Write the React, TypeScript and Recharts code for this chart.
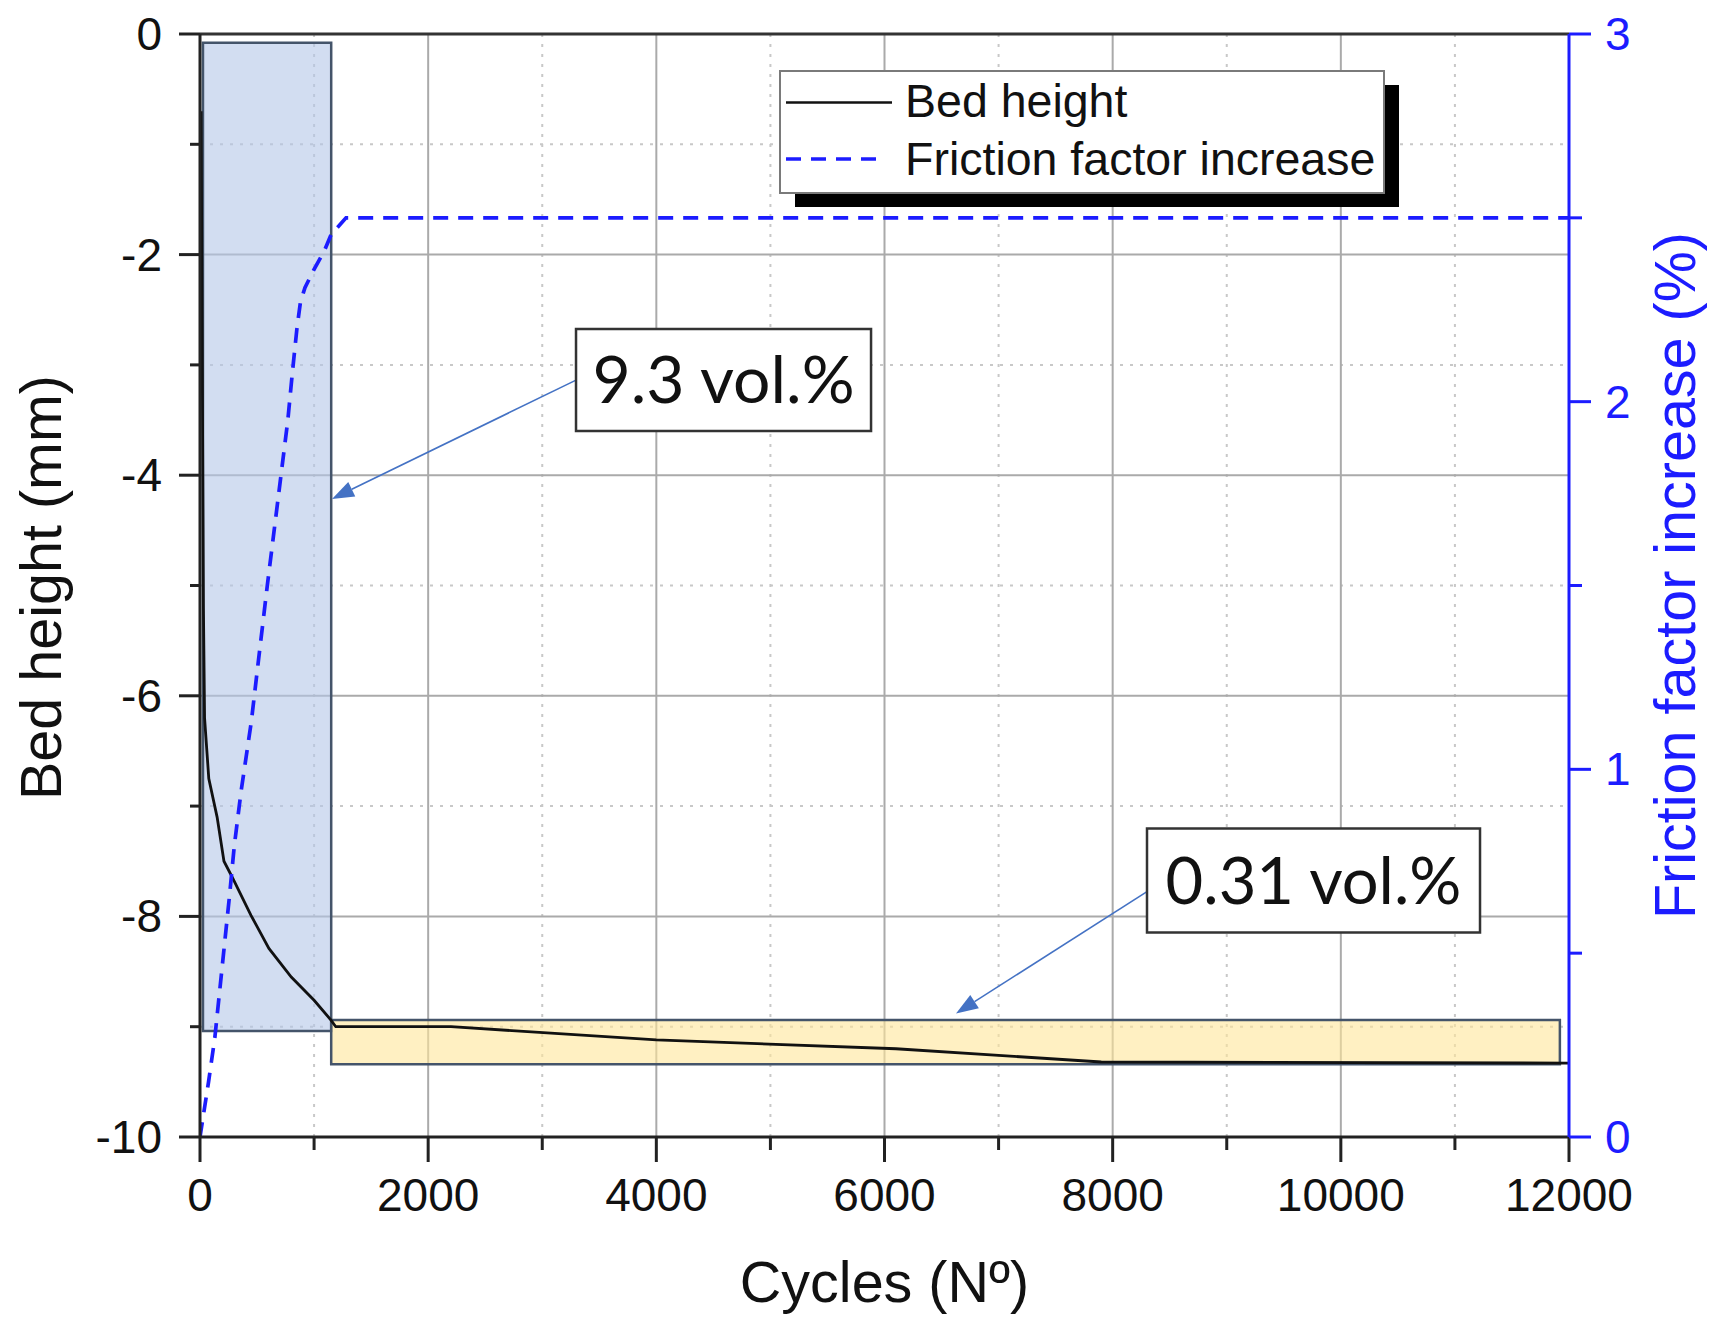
import { ComposedChart, Line, XAxis, YAxis, ReferenceLine, ReferenceArea, Legend } from 'recharts'

const SANS = '"Liberation Sans", Arial, sans-serif'
const CALLOUT_FONT = 'Lato, "Open Sans", sans-serif'
const BLUE = '#1c1cff'
const AXIS = '#222'

// bed height (mm) vs cycles
const bedCycles = [10, 20, 30, 40, 77, 150, 210, 290, 447, 604, 800, 1000, 1148, 1190, 2200, 4000, 6100, 7000, 7900, 12000]
const bedHeight = [-0.7, -3.0, -5.2, -6.2, -6.75, -7.1, -7.5, -7.66, -7.99, -8.29, -8.55, -8.76, -8.94, -9.0, -9.0, -9.12, -9.2, -9.26, -9.32, -9.33]

// friction factor increase (%) vs cycles
const frictionCycles = [0, 75, 130, 190, 260, 300, 360, 450, 510, 590, 650, 710, 770, 810, 850, 880, 920, 1000, 1090, 1150, 1280, 12000]
const frictionIncrease = [0, 0.15, 0.27, 0.45, 0.66, 0.79, 0.94, 1.13, 1.29, 1.5, 1.65, 1.8, 1.95, 2.08, 2.2, 2.27, 2.31, 2.36, 2.41, 2.455, 2.5, 2.5]

const xTicks = [0, 1000, 2000, 3000, 4000, 5000, 6000, 7000, 8000, 9000, 10000, 11000, 12000]
const leftTicks = [-10, -9, -8, -7, -6, -5, -4, -3, -2, -1, 0]
const rightTicks = [0, 0.5, 1, 1.5, 2, 2.5, 3]
const majorGridX = [2000, 4000, 6000, 8000, 10000]
const minorGridX = [1000, 3000, 5000, 7000, 9000, 11000]
const majorGridY = [-8, -6, -4, -2]
const minorGridY = [-9, -7, -5, -3, -1]

// shaded regions [x1, x2, y1, y2] in cycles / mm
const highConcRegion = [26, 1150, -0.08, -9.04]
const lowConcRegion = [1150, 11920, -8.94, -9.34]

// callouts
const calloutLabels = ['9.3 vol.%', '0.31 vol.%']
const calloutSizes = [66, 65]
const calloutBoxes = [
  [3296, 5882, -2.675, -3.6],
  [8301, 11220, -7.204, -8.147],
]
const calloutArrows = [
  [3296, -3.138, 1157, -4.215],
  [8301, -7.775, 6627, -8.88],
]

const bedData = bedCycles.map((x, i) => ({ x, y: bedHeight[i] }))
const frictionData = frictionCycles.map((x, i) => ({ x, y: frictionIncrease[i] }))

function BottomTick({ x, y, payload }: any) {
  const major = payload.value % 2000 === 0
  return (
    <g>
      <line x1={x} x2={x} y1={y} y2={y + (major ? 25 : 13)} stroke={AXIS} strokeWidth={3} />
      {major && (
        <text x={x} y={y + 74} textAnchor="middle" fontSize={46} fontFamily={SANS} fill="#111">
          {payload.value}
        </text>
      )}
    </g>
  )
}

function TopTick({ x, y, payload }: any) {
  const major = payload.value % 2000 === 0
  return <line x1={x} x2={x} y1={y} y2={y + (major ? 24 : 11)} stroke={AXIS} strokeWidth={3} />
}

function LeftTick({ x, y, payload }: any) {
  const major = payload.value % 2 === 0
  return (
    <g>
      <line x1={x - (major ? 21 : 10)} x2={x} y1={y} y2={y} stroke={AXIS} strokeWidth={3} />
      {major && (
        <text x={x - 38} y={y + 16} textAnchor="end" fontSize={46} fontFamily={SANS} fill="#111">
          {payload.value}
        </text>
      )}
    </g>
  )
}

function RightTick({ x, y, payload }: any) {
  const major = Number.isInteger(payload.value)
  return (
    <g>
      <line x1={x} x2={x + (major ? 22 : 13)} y1={y} y2={y} stroke={BLUE} strokeWidth={3} />
      {major && (
        <text x={x + 36} y={y + 16} textAnchor="start" fontSize={46} fontFamily={SANS} fill={BLUE}>
          {payload.value}
        </text>
      )}
    </g>
  )
}

function Arrow(props: any) {
  const { x1, y1, x2, y2 } = props
  const dx = x2 - x1
  const dy = y2 - y1
  const len = Math.hypot(dx, dy) || 1
  const ux = dx / len
  const uy = dy / len
  const hl = 22
  const hw = 8
  const bx = x2 - ux * hl
  const by = y2 - uy * hl
  return (
    <g>
      <line x1={x1} y1={y1} x2={bx} y2={by} stroke="#4472C4" strokeWidth={1.6} />
      <polygon
        points={`${x2},${y2} ${bx - uy * hw},${by + ux * hw} ${bx + uy * hw},${by - ux * hw}`}
        fill="#4472C4"
      />
    </g>
  )
}

function LegendBox({ payload }: any) {
  const items = payload || []
  return (
    <svg width={625} height={140} style={{ display: 'block' }}>
      <rect x={16} y={15} width={604} height={122} fill="#000" />
      <rect x={1} y={1} width={604} height={122} fill="#fff" stroke="#7a7a7a" strokeWidth={2} />
      {items.map((e: any, i: number) => {
        const dash = e.payload?.strokeDasharray
        return (
          <g key={i}>
            <line
              x1={7}
              x2={dash ? 104 : 113}
              y1={32.5 + i * 56.5}
              y2={32.5 + i * 56.5}
              stroke={e.color}
              strokeWidth={dash ? 3.5 : 2.5}
              strokeDasharray={dash}
            />
            <text x={126} y={47 + i * 58} fontSize={46.5} fontFamily={SANS} fill="#111">
              {e.value}
            </text>
          </g>
        )
      })}
    </svg>
  )
}

const axisTitle = (text: string, kind: 'x' | 'left' | 'right', color: string) => (props: any) => {
  const vb = props.viewBox || {}
  if (kind === 'x') {
    return (
      <text x={vb.x + vb.width / 2} y={vb.y + 165} textAnchor="middle" fontSize={57.5} fontFamily={SANS} fill={color}>
        {text}
      </text>
    )
  }
  const cx = kind === 'left' ? vb.x - 19 : vb.x + 126
  const cy = vb.y + vb.height / 2 + (kind === 'left' ? 2 : -10)
  return (
    <text
      x={cx}
      y={cy}
      transform={`rotate(-90 ${cx} ${cy})`}
      textAnchor="middle"
      fontSize={57.5}
      fontFamily={SANS}
      fill={color}
    >
      {text}
    </text>
  )
}

export default function App() {
  return (
    <div style={{ width: 1700, height: 1320 }}>
      <ComposedChart width={1700} height={1320} margin={{ top: 25, right: 0, bottom: 60, left: 72 }}>
        <XAxis
          xAxisId="x"
          type="number"
          dataKey="x"
          domain={[0, 12000]}
          allowDataOverflow
          ticks={xTicks}
          interval={0}
          height={131}
          tickSize={0}
          tickMargin={0}
          tickLine={false}
          tick={<BottomTick />}
          axisLine={{ stroke: AXIS, strokeWidth: 3 }}
          label={{ content: axisTitle('Cycles (Nº)', 'x', '#111') }}
        />
        <XAxis
          xAxisId="top"
          orientation="top"
          type="number"
          domain={[0, 12000]}
          allowDataOverflow
          ticks={xTicks}
          interval={0}
          height={1}
          tickSize={0}
          tickMargin={0}
          tickLine={false}
          tick={<TopTick />}
          axisLine={{ stroke: '#333', strokeWidth: 3 }}
        />
        <YAxis
          yAxisId="left"
          type="number"
          domain={[-10, 0]}
          allowDataOverflow
          ticks={leftTicks}
          interval={0}
          width={120}
          tickSize={0}
          tickMargin={0}
          tickLine={false}
          tick={<LeftTick />}
          axisLine={{ stroke: AXIS, strokeWidth: 3 }}
          label={{ content: axisTitle('Bed height (mm)', 'left', '#111') }}
        />
        <YAxis
          yAxisId="right"
          orientation="right"
          type="number"
          domain={[0, 3]}
          allowDataOverflow
          ticks={rightTicks}
          interval={0}
          width={139}
          tickSize={0}
          tickMargin={0}
          tickLine={false}
          tick={<RightTick />}
          axisLine={{ stroke: BLUE, strokeWidth: 3 }}
          label={{ content: axisTitle('Friction factor increase (%)', 'right', BLUE) }}
        />

        {minorGridX.map((v) => (
          <ReferenceLine key={`mx${v}`} xAxisId="x" yAxisId="left" x={v} stroke="#c8c8c8" strokeWidth={2} strokeDasharray="3 7" zIndex={-90} />
        ))}
        {minorGridY.map((v) => (
          <ReferenceLine key={`my${v}`} xAxisId="x" yAxisId="left" y={v} stroke="#c8c8c8" strokeWidth={2} strokeDasharray="3 7" zIndex={-90} />
        ))}
        {majorGridX.map((v) => (
          <ReferenceLine key={`gx${v}`} xAxisId="x" yAxisId="left" x={v} stroke="#aaaaaa" strokeWidth={2} zIndex={-80} />
        ))}
        {majorGridY.map((v) => (
          <ReferenceLine key={`gy${v}`} xAxisId="x" yAxisId="left" y={v} stroke="#aaaaaa" strokeWidth={2} zIndex={-80} />
        ))}

        <ReferenceArea
          xAxisId="x"
          yAxisId="left"
          x1={highConcRegion[0]}
          x2={highConcRegion[1]}
          y1={highConcRegion[2]}
          y2={highConcRegion[3]}
          fill="#B4C7E7"
          fillOpacity={0.6}
          stroke="#44546A"
          strokeWidth={2.5}
          zIndex={300}
        />
        <ReferenceArea
          xAxisId="x"
          yAxisId="left"
          x1={lowConcRegion[0]}
          x2={lowConcRegion[1]}
          y1={lowConcRegion[2]}
          y2={lowConcRegion[3]}
          fill="#FFE699"
          fillOpacity={0.6}
          stroke="#44546A"
          strokeWidth={2.5}
          zIndex={300}
        />

        <Line
          xAxisId="x"
          yAxisId="left"
          data={bedData}
          dataKey="y"
          name="Bed height"
          stroke="#111"
          strokeWidth={2.8}
          dot={false}
          isAnimationActive={false}
          zIndex={400}
        />
        <Line
          xAxisId="x"
          yAxisId="right"
          data={frictionData}
          dataKey="y"
          name="Friction factor increase"
          stroke={BLUE}
          strokeWidth={3.7}
          strokeDasharray="15 10"
          dot={false}
          isAnimationActive={false}
          zIndex={400}
        />

        {calloutArrows.map((a, i) => (
          <ReferenceLine
            key={`arrow${i}`}
            xAxisId="x"
            yAxisId="left"
            segment={[{ x: a[0], y: a[1] }, { x: a[2], y: a[3] }]}
            shape={<Arrow />}
            zIndex={600}
          />
        ))}
        {calloutBoxes.map((b, i) => (
          <ReferenceArea
            key={`box${i}`}
            xAxisId="x"
            yAxisId="left"
            x1={b[0]}
            x2={b[1]}
            y1={b[2]}
            y2={b[3]}
            fill="#fff"
            fillOpacity={1}
            stroke="#333"
            strokeWidth={2.5}
            zIndex={650}
            label={{ value: calloutLabels[i], position: 'center', fontSize: calloutSizes[i], fontFamily: CALLOUT_FONT, fill: '#111' }}
          />
        ))}

        <Legend
          layout="horizontal"
          verticalAlign="middle"
          align="center"
          content={<LegendBox />}
          wrapperStyle={{ left: 771, top: 62, width: 630, height: 145 }}
        />
      </ComposedChart>
    </div>
  )
}
